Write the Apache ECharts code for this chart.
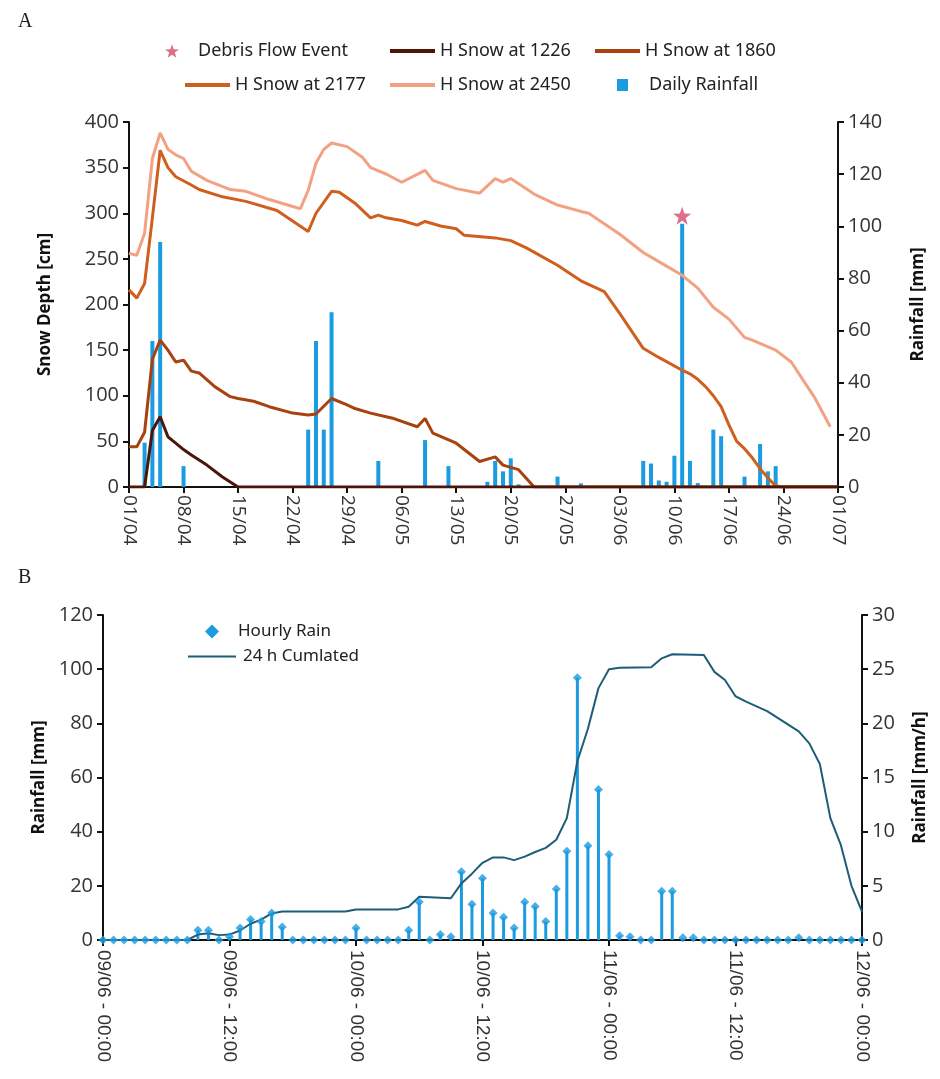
<!DOCTYPE html>
<html>
<head>
<meta charset="utf-8">
<script src="https://cdn.jsdelivr.net/npm/echarts@6/dist/echarts.min.js"></script>
<style>
  html, body { margin: 0; background: #fff; }
  #chart { width: 940px; height: 1079px; }
</style>
</head>
<body>
<div id="chart"></div>
<script>
// ---- panel A: days counted from 01/04 ----
const dayTicks = ['01/04','08/04','15/04','22/04','29/04','06/05','13/05','20/05','27/05','03/06','10/06','17/06','24/06','01/07'];

const dailyRain = [
  [2,17],[3,56],[4,94],[7,8],[23,22],[24,56],[25,22],[26,67],[32,10],[38,18],[41,8],
  [46,2],[47,10],[48,6],[49,11],[50,1],[55,4],[56,0.5],[58,1.4],[66,10],[67,9],[68,2.5],
  [69,2],[70,12],[71,101],[72,10],[73,1.5],[75,22],[76,19.5],[79,4],[81,16.5],[82,6],[83,8]
];

const debrisFlow = [[71,104]];

const snow1226 = [[0,0],[2,0],[3,62],[4,77],[5,55],[6,48],[7,41],[8,35],[10,24],[12,11],[14,0],[91,0]];

const snow1860 = [
  [0,44],[1,44],[2,60],[3,140],[4,161],[5,150],[6,137],[7,139],[8,127],[9,125],[11,110],
  [13,99],[14,97],[16,94],[18,88],[21,81],[23,79],[24,80],[26,97],[28,90],[29,86],[31,81],
  [33,77],[34,75],[37,66],[38,75],[39,59],[42,48],[45,28],[47,33],[48,24],[50,19],[52,0],[91,0]
];

const snow2177 = [
  [0,216],[1,207],[2,223],[3,295],[4,369],[5,350],[6,340],[8,331],[9,326],[12,318],[15,313],
  [19,303],[23,280],[24,300],[26,324],[27,323],[29,311],[31,295],[32,298],[33,295],[35,292],
  [37,287],[38,291],[40,286],[42,283],[43,276],[47,273],[49,270],[51,262],[55,243],[58,226],
  [61,214],[63,190],[66,152],[68,142],[71,128],[72,124],[73,118],[74,110],[75,100],[76,88],
  [77,68],[78,50],[79,42],[80,32],[81,20],[82,10],[83,1],[84,0],[91,0]
];

const snow2450 = [
  [0,256],[1,254],[2,278],[3,360],[4,388],[5,370],[6,364],[7,360],[8,346],[10,336],[13,326],
  [15,324],[18,315],[22,305],[23,325],[24,355],[25,370],[26,377],[28,373],[30,361],[31,350],
  [33,343],[35,334],[38,347],[39,336],[42,327],[45,322],[46,330],[47,338],[48,334],[49,338],
  [52,321],[55,309],[58,302],[59,300],[63,277],[66,257],[68,247],[71,232],[73,218],[75,197],
  [77,184],[79,164],[80,161],[83,150],[85,137],[86,124],[88,98],[90,66]
];

// ---- panel B: hours counted from 09/06 00:00 ----
const hourTicks = ['09/06 - 00:00','09/06 - 12:00','10/06 - 00:00','10/06 - 12:00','11/06 - 00:00','11/06 - 12:00','12/06 - 00:00'];

const hourlyRain = [
  0,0,0,0,0,0,0,0,0,0.9, 0.9,0,0.3,1.1,1.9,1.7,2.5,1.2,0,0,
  0,0,0,0,1.1,0,0,0,0,0.9, 3.5,0,0.5,0.3,6.3,3.3,5.7,2.5,2.1,1.1,
  3.5,3.1,1.7,4.7,8.2,24.2,8.7,13.9,7.9,0.4, 0.3,0,0,4.5,4.5,0.2,0.2,0,0,0,
  0,0,0,0,0,0,0.2,0,0,0, 0,0,0
];

const cumulated24h = [
  [0,0],[8,0],[9,2],[10,2.5],[11,1.8],[12,2],[13,3.5],[14,6],[15,7.5],[16,9.8],[17,10.5],
  [23,10.5],[24,11.3],[28,11.3],[29,12.3],[30,16],[33,15.4],[34,20.9],[35,24.5],[36,28.5],
  [37,30.5],[38,30.5],[39,29.5],[40,30.8],[41,32.5],[42,34],[43,37],[44,45],[45,66],[46,78],
  [47,93],[48,100],[49,100.5],[52,100.7],[53,104],[54,105.5],[57,105.2],[58,99],[59,96],
  [60,90],[61,88],[63,84.5],[65,79.5],[66,77],[67,72.6],[68,65],[69,45],[70,35],[71,20],[72,10.5]
];

const hourlyPairs = hourlyRain.map((v, h) => [h, v]);

const BLUE = '#1b9be0';
const STAR = 'path://M0,-10 L2.35,-3.24 L9.51,-3.09 L3.8,1.24 L5.88,8.09 L0,4 L-5.88,8.09 L-3.8,1.24 L-9.51,-3.09 L-2.35,-3.24Z';
const axisFont = { color: '#333', fontFamily: 'Open Sans', fontSize: 20 };
const axisLine = { show: true, lineStyle: { color: '#111', width: 2 } };
const axisTick = { show: true, inside: false, length: 6, lineStyle: { color: '#111', width: 2 } };
const nameFont = { fontFamily: 'Open Sans', fontWeight: 'bold', fontSize: 17, color: '#111' };
const legendText = { fontFamily: 'Noto Sans', fontSize: 18, color: '#222' };

function oneLegend(item, left, top, extra) {
  return Object.assign({
    data: [item], left: left, top: top, itemWidth: 45, itemHeight: 4,
    textStyle: legendText, selectedMode: false
  }, extra || {});
}

const chart = echarts.init(document.getElementById('chart'));
chart.setOption({
  animation: false,
  backgroundColor: '#fff',
  graphic: [
    { type: 'text', left: 18, top: 12, style: { text: 'A', font: '20px "Liberation Serif"', fill: '#222' } },
    { type: 'text', left: 18, top: 568, style: { text: 'B', font: '20px "Liberation Serif"', fill: '#222' } }
  ],
  legend: [
    oneLegend({ name: 'Debris Flow Event', icon: STAR }, 160, 37,
      { itemWidth: 14, itemHeight: 14, textStyle: Object.assign({}, legendText, { padding: [0, 0, 0, 14] }) }),
    oneLegend({ name: 'H Snow at 1226', icon: 'rect' }, 385, 37),
    oneLegend({ name: 'H Snow at 1860', icon: 'rect' }, 590, 37),
    oneLegend({ name: 'H Snow at 2177', icon: 'rect' }, 180, 71),
    oneLegend({ name: 'H Snow at 2450', icon: 'rect' }, 385, 71),
    oneLegend({ name: 'Daily Rainfall', icon: 'rect' }, 612, 71,
      { itemWidth: 11, itemHeight: 12, textStyle: Object.assign({}, legendText, { padding: [0, 0, 0, 16] }) }),
    oneLegend({ name: 'Hourly Rain', icon: 'diamond' }, 200, 618,
      { itemWidth: 14, itemHeight: 14, textStyle: Object.assign({}, legendText, { fontSize: 17, padding: [0, 0, 0, 14] }) }),
    oneLegend({ name: '24 h Cumlated', icon: 'rect' }, 183, 643,
      { itemWidth: 48, itemHeight: 2, textStyle: Object.assign({}, legendText, { fontSize: 17, padding: [0, 0, 0, 2] }) })
  ],
  grid: [
    { left: 129, top: 122, width: 709, height: 365, containLabel: false, outerBoundsMode: 'none' },
    { left: 103, top: 615, width: 759, height: 325, containLabel: false, outerBoundsMode: 'none' }
  ],
  xAxis: [
    {
      gridIndex: 0, type: 'value', min: 0, max: 91, interval: 7,
      axisLine: axisLine, axisTick: axisTick, splitLine: { show: false },
      axisLabel: Object.assign({}, axisFont, { fontSize: 19, rotate: -90, margin: 8, formatter: v => dayTicks[v / 7] })
    },
    {
      gridIndex: 1, type: 'value', min: 0, max: 72, interval: 12,
      axisLine: axisLine, axisTick: axisTick, splitLine: { show: false },
      axisLabel: Object.assign({}, axisFont, { fontFamily: 'Liberation Sans', fontSize: 19, rotate: -90, margin: 10, formatter: v => hourTicks[v / 12] })
    }
  ],
  yAxis: [
    {
      gridIndex: 0, type: 'value', min: 0, max: 400, interval: 50, position: 'left',
      name: 'Snow Depth [cm]', nameLocation: 'middle', nameGap: 75, nameTextStyle: nameFont,
      axisLine: axisLine, axisTick: axisTick, splitLine: { show: false },
      axisLabel: Object.assign({}, axisFont, { margin: 10 })
    },
    {
      gridIndex: 0, type: 'value', min: 0, max: 140, interval: 20, position: 'right',
      name: 'Rainfall [mm]', nameLocation: 'middle', nameGap: 72, nameTextStyle: nameFont,
      axisLine: axisLine, axisTick: axisTick, splitLine: { show: false },
      axisLabel: Object.assign({}, axisFont, { margin: 10 })
    },
    {
      gridIndex: 1, type: 'value', min: 0, max: 120, interval: 20, position: 'left',
      name: 'Rainfall [mm]', nameLocation: 'middle', nameGap: 50, nameTextStyle: nameFont,
      axisLine: axisLine, axisTick: axisTick, splitLine: { show: false },
      axisLabel: Object.assign({}, axisFont, { margin: 10 })
    },
    {
      gridIndex: 1, type: 'value', min: 0, max: 30, interval: 5, position: 'right',
      name: 'Rainfall [mm/h]', nameLocation: 'middle', nameGap: 50, nameTextStyle: nameFont,
      axisLine: axisLine, axisTick: axisTick, splitLine: { show: false },
      axisLabel: Object.assign({}, axisFont, { margin: 10 })
    }
  ],
  series: [
    {
      name: 'Daily Rainfall', type: 'bar', xAxisIndex: 0, yAxisIndex: 1,
      data: dailyRain, barWidth: 4, itemStyle: { color: BLUE }, z: 2
    },
    {
      name: 'H Snow at 2450', type: 'line', xAxisIndex: 0, yAxisIndex: 0, data: snow2450,
      symbol: 'none', lineStyle: { color: '#f2a283', width: 3 }, itemStyle: { color: '#f2a283' }, z: 3
    },
    {
      name: 'H Snow at 2177', type: 'line', xAxisIndex: 0, yAxisIndex: 0, data: snow2177,
      symbol: 'none', lineStyle: { color: '#cf5f1e', width: 3 }, itemStyle: { color: '#cf5f1e' }, z: 4
    },
    {
      name: 'H Snow at 1860', type: 'line', xAxisIndex: 0, yAxisIndex: 0, data: snow1860,
      symbol: 'none', lineStyle: { color: '#a8420f', width: 3 }, itemStyle: { color: '#a8420f' }, z: 5
    },
    {
      name: 'H Snow at 1226', type: 'line', xAxisIndex: 0, yAxisIndex: 0, data: snow1226,
      symbol: 'none', lineStyle: { color: '#4a170a', width: 3 }, itemStyle: { color: '#4a170a' }, z: 6
    },
    {
      name: 'Debris Flow Event', type: 'scatter', xAxisIndex: 0, yAxisIndex: 1, data: debrisFlow,
      symbol: STAR, symbolSize: 18, itemStyle: { color: '#d24d6e' }, z: 7
    },
    {
      name: 'Hourly Rain', type: 'bar', xAxisIndex: 1, yAxisIndex: 3,
      data: hourlyPairs, barWidth: 3, itemStyle: { color: BLUE }, z: 2
    },
    {
      name: 'Hourly Rain', type: 'scatter', xAxisIndex: 1, yAxisIndex: 3,
      data: hourlyPairs, symbol: 'diamond', symbolSize: 9, itemStyle: { color: BLUE }, z: 4
    },
    {
      name: '24 h Cumlated', type: 'line', xAxisIndex: 1, yAxisIndex: 2, data: cumulated24h,
      symbol: 'none', lineStyle: { color: '#1e5d78', width: 2 }, itemStyle: { color: '#1e5d78' }, z: 3
    }
  ]
});
</script>
</body>
</html>
